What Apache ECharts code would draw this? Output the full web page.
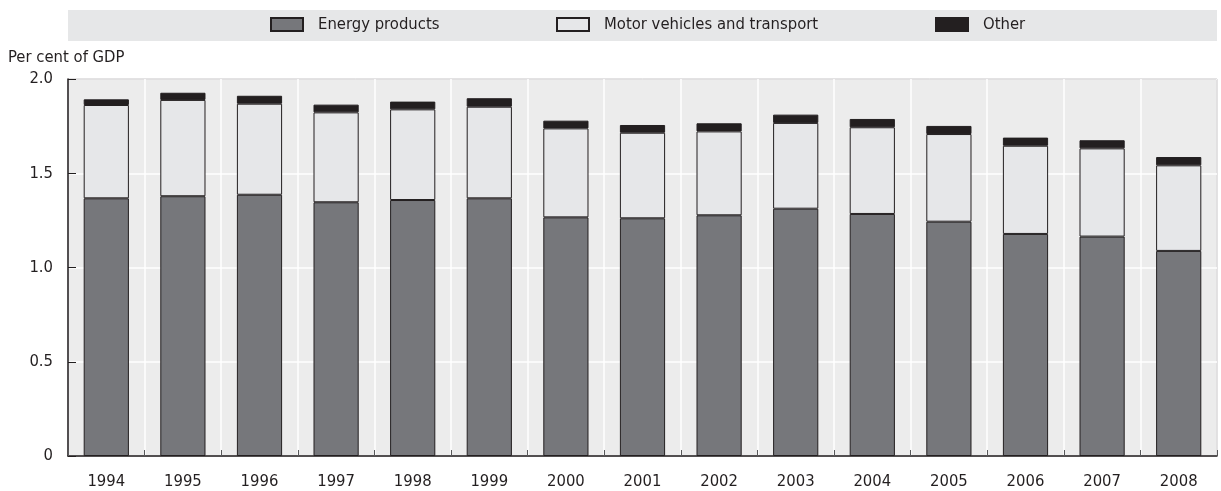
<!DOCTYPE html>
<html>
<head>
    <meta charset="UTF-8">
    <title>Environmental taxes</title>
    <script src="https://cdn.jsdelivr.net/npm/echarts@6/dist/echarts.min.js"></script>
    <style>
    html, body { margin: 0; padding: 0; background: #fff; }
    #chart { width: 1221px; height: 491px; }
    </style>
</head>
<body>
    <div id="chart"></div>
    <script type="text/javascript">
    var years = ['1994', '1995', '1996', '1997', '1998', '1999', '2000', '2001',
        '2002', '2003', '2004', '2005', '2006', '2007', '2008'];
    var energy = [1.367, 1.378, 1.386, 1.346, 1.358, 1.367, 1.266, 1.261,
        1.277, 1.312, 1.284, 1.243, 1.178, 1.164, 1.088];
    var motor = [0.495, 0.511, 0.483, 0.477, 0.481, 0.486, 0.472, 0.454,
        0.445, 0.455, 0.460, 0.465, 0.468, 0.468, 0.454];
    var other = [0.030, 0.038, 0.042, 0.041, 0.041, 0.045, 0.041, 0.041,
        0.043, 0.044, 0.044, 0.043, 0.043, 0.043, 0.044];

    var font = "'Liberation Sans Narrow', 'DejaVu Sans Condensed', sans-serif";
    var dark = '#231f20';

    var chart = echarts.init(document.getElementById('chart'));

    // legend items, each placed on its own
    var legendOf = function(name, left) {
        return {
            data: [{ name: name, icon: 'rect' }],
            left: left,
            top: 11,
            itemWidth: 32,
            itemHeight: 13,
            textStyle: { fontFamily: font, fontSize: 16.5, color: dark, padding: [0, 0, 0, 10] }
        };
    };

    var barSeries = function(name, data, color) {
        return {
            name: name,
            type: 'bar',
            stack: 'total',
            data: data,
            barWidth: '59%',
            itemStyle: { color: color, borderColor: dark, borderWidth: 1 },
            emphasis: { disabled: true }
        };
    };

    var option = {
        animation: false,
        textStyle: { fontFamily: font },
        graphic: [
            {
                type: 'rect',
                shape: { x: 68, y: 10, width: 1149, height: 31 },
                style: { fill: '#e6e7e8' },
                z: -10
            },
            {
                type: 'text',
                left: 8,
                top: 49,
                style: { text: 'Per cent of GDP', fontFamily: font, fontSize: 16.5, fill: dark }
            }
        ],
        legend: [
            legendOf('Energy products', 265),
            legendOf('Motor vehicles and transport', 551),
            legendOf('Other', 930)
        ],
        grid: {
            left: 68,
            right: 4,
            top: 79,
            bottom: 35,
            show: true,
            backgroundColor: '#ececec',
            borderColor: dark,
            borderWidth: 1
        },
        xAxis: {
            type: 'category',
            data: years,
            axisLine: { lineStyle: { color: dark, width: 1.5 } },
            axisTick: { show: true, inside: true, length: 6, lineStyle: { color: '#58585a' } },
            splitLine: { show: true, lineStyle: { color: '#ffffff', width: 1.5 } },
            axisLabel: { fontSize: 16.5, color: dark, margin: 17, fontFamily: font }
        },
        yAxis: {
            type: 'value',
            min: 0,
            max: 2,
            interval: 0.5,
            axisLine: { show: true, lineStyle: { color: dark, width: 1.5 } },
            axisTick: { show: true, inside: true, length: 8, lineStyle: { color: dark } },
            splitLine: { lineStyle: { color: '#ffffff', width: 1.5 } },
            axisLabel: {
                fontSize: 16.5,
                color: dark,
                margin: 15,
                fontFamily: font,
                formatter: function(v) { return v === 0 ? '0' : v.toFixed(1); }
            }
        },
        series: [
            barSeries('Energy products', energy, '#76777b'),
            barSeries('Motor vehicles and transport', motor, '#e6e7e9'),
            barSeries('Other', other, dark)
        ]
    };

    chart.setOption(option);
    </script>
</body>
</html>
